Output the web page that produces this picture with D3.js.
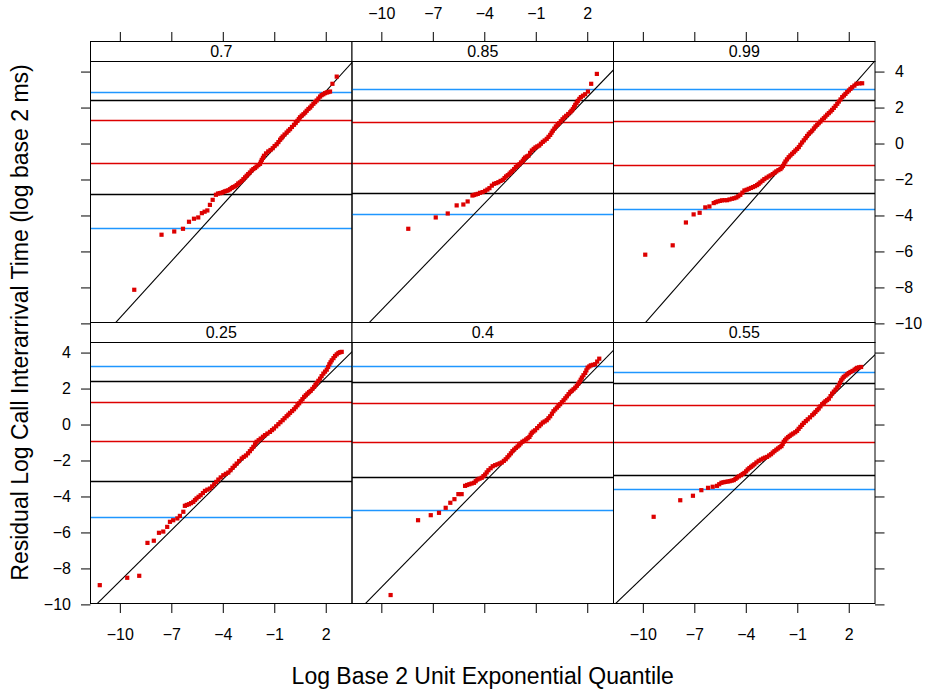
<!DOCTYPE html>
<html>
<head>
<meta charset="utf-8">
<script src="https://cdn.jsdelivr.net/npm/d3@7"></script>
<style>
  body { margin: 0; background: #fff; }
  svg text { font-family: "Liberation Sans", Arial, Helvetica, sans-serif; fill: #000; }
</style>
</head>
<body>
<svg id="chart" width="925" height="691"></svg>
<script>
// panels in lattice order: bottom row first, then top row
const panelLabels = ['0.25', '0.4', '0.55', '0.7', '0.85', '0.99'];

const xTicks = [-10, -7, -4, -1, 2];
const yTicks = [4, 2, 0, -2, -4, -6, -8, -10];

// horizontal reference lines per panel [upper, lower]
const blackLines = [[2.39, -3.15], [2.31, -2.96], [2.28, -2.82], [2.39, -2.81], [2.39, -2.79], [2.39, -2.79]];
const redLines   = [[1.24, -0.93], [1.18, -1.02], [1.07, -0.98], [1.26, -1.09], [1.17, -1.11], [1.21, -1.22]];
const blueLines  = [[3.20, -5.17], [3.20, -4.80], [2.91, -3.63], [2.85, -4.74], [3.02, -3.94], [2.98, -3.68]];

// fitted line per panel
const lineIntercept = [0.72, 0.69, 0.65, 0.80, 0.61, 0.76];
const lineSlope     = [0.943, 0.974, 0.915, 1.05, 0.987, 1.088];

// quantile points [exponential quantile, residual]
const pts025 = [[-11.17,-8.93],[-9.57,-8.52],[-8.87,-8.41],[-8.39,-6.58],[-8.02,-6.46],[-7.72,-6.02],[-7.47,-5.95],[-7.24,-5.69],[-7.08,-5.41],[-6.89,-5.32],[-6.65,-5.22],[-6.50,-5.08],[-6.30,-4.85],[-6.21,-4.52],[-5.97,-4.43],[-5.72,-4.30],[-5.53,-4.11],[-5.29,-3.93],[-5.04,-3.69],[-4.75,-3.56],[-4.50,-3.32],[-4.26,-3.06],[-3.97,-2.82],[-3.68,-2.67],[-3.43,-2.41],[-3.19,-2.17],[-2.90,-1.89],[-2.65,-1.72],[-2.42,-1.48],[-2.22,-1.24],[-2.03,-0.96],[-1.79,-0.78],[-1.54,-0.59],[-1.25,-0.41],[-1.02,-0.22],[-0.76,0.02],[-0.51,0.24],[-0.28,0.46],[-0.08,0.65],[0.15,0.85],[0.35,1.07],[0.54,1.29],[0.74,1.54],[0.93,1.72],[1.12,1.87],[1.32,2.09],[1.47,2.31],[1.67,2.55],[1.86,2.83],[2.06,3.05],[2.21,3.35],[2.35,3.57],[2.54,3.81],[2.74,3.98],[2.93,4.04]];
const band025 = [[-6.10,-4.47],[-5.85,-4.37],[-5.62,-4.20],[-5.41,-4.02],[-5.16,-3.81],[-4.90,-3.62],[-4.62,-3.44],[-4.38,-3.19],[-4.12,-2.94],[-3.82,-2.74],[-3.55,-2.54],[-3.31,-2.29],[-3.05,-2.03],[-2.78,-1.80],[-2.53,-1.60],[-2.32,-1.36],[-2.12,-1.10],[-1.91,-0.87],[-1.66,-0.68],[-1.40,-0.50],[-1.13,-0.31],[-0.89,-0.10],[-0.64,0.13],[-0.40,0.35],[-0.18,0.55],[0.04,0.75],[0.25,0.96],[0.45,1.18],[0.64,1.41],[0.84,1.63],[1.03,1.80],[1.22,1.98],[1.40,2.20],[1.57,2.43],[1.76,2.69],[1.96,2.94],[2.14,3.20],[2.28,3.46],[2.45,3.69],[2.64,3.90],[2.84,4.02]];
const pts04 = [[-9.46,-9.48],[-7.86,-5.32],[-7.12,-5.04],[-6.64,-4.91],[-6.25,-4.63],[-5.98,-4.35],[-5.74,-4.15],[-5.51,-3.87],[-5.32,-3.87],[-5.12,-3.41],[-4.87,-3.32],[-4.60,-3.24],[-4.40,-3.06],[-4.15,-2.96],[-3.95,-2.78],[-3.76,-2.54],[-3.51,-2.32],[-3.23,-2.21],[-2.98,-2.11],[-2.75,-1.93],[-2.55,-1.71],[-2.36,-1.48],[-2.16,-1.30],[-1.97,-1.15],[-1.78,-0.96],[-1.56,-0.83],[-1.37,-0.69],[-1.23,-0.46],[-1.04,-0.32],[-0.80,-0.09],[-0.59,0.11],[-0.36,0.24],[-0.16,0.46],[0.03,0.74],[0.23,0.94],[0.42,1.13],[0.62,1.35],[0.81,1.57],[1.01,1.81],[1.20,1.96],[1.39,2.15],[1.55,2.37],[1.69,2.61],[1.88,2.87],[2.02,3.16],[2.21,3.29],[2.46,3.35],[2.70,3.66]];
const band04 = [[-5.00,-3.36],[-4.74,-3.28],[-4.50,-3.15],[-4.28,-3.01],[-4.05,-2.87],[-3.86,-2.66],[-3.63,-2.43],[-3.37,-2.26],[-3.10,-2.16],[-2.86,-2.02],[-2.65,-1.82],[-2.45,-1.60],[-2.26,-1.39],[-2.06,-1.22],[-1.88,-1.05],[-1.67,-0.90],[-1.47,-0.76],[-1.30,-0.57],[-1.14,-0.39],[-0.92,-0.20],[-0.70,0.01],[-0.48,0.17],[-0.26,0.35],[-0.06,0.60],[0.13,0.84],[0.32,1.03],[0.52,1.24],[0.72,1.46],[0.91,1.69],[1.10,1.88],[1.30,2.05],[1.47,2.26],[1.62,2.49],[1.78,2.74],[1.95,3.01],[2.12,3.23],[2.33,3.32],[2.58,3.50]];
const pts055 = [[-9.37,-5.13],[-7.82,-4.21],[-7.08,-3.96],[-6.59,-3.65],[-6.20,-3.52],[-5.93,-3.46],[-5.68,-3.41],[-5.42,-3.24],[-5.19,-3.19],[-4.94,-3.15],[-4.70,-3.09],[-4.51,-2.95],[-4.28,-2.82],[-4.08,-2.69],[-3.89,-2.50],[-3.69,-2.35],[-3.50,-2.21],[-3.25,-2.02],[-2.99,-1.89],[-2.76,-1.80],[-2.53,-1.65],[-2.33,-1.48],[-2.12,-1.33],[-1.92,-1.20],[-1.79,-0.96],[-1.63,-0.78],[-1.44,-0.63],[-1.24,-0.50],[-1.01,-0.35],[-0.82,-0.13],[-0.62,0.09],[-0.39,0.29],[-0.13,0.52],[0.06,0.70],[0.25,0.89],[0.45,1.13],[0.64,1.29],[0.84,1.44],[1.03,1.72],[1.23,1.94],[1.42,2.18],[1.56,2.46],[1.71,2.65],[1.91,2.79],[2.10,2.92],[2.34,3.05],[2.49,3.15],[2.72,3.20]];
const band055 = [[-5.55,-3.32],[-5.30,-3.21],[-5.06,-3.17],[-4.82,-3.12],[-4.60,-3.02],[-4.40,-2.88],[-4.18,-2.75],[-3.98,-2.60],[-3.79,-2.42],[-3.60,-2.28],[-3.38,-2.11],[-3.12,-1.95],[-2.88,-1.84],[-2.64,-1.72],[-2.43,-1.56],[-2.22,-1.40],[-2.02,-1.26],[-1.85,-1.08],[-1.71,-0.87],[-1.53,-0.70],[-1.34,-0.56],[-1.12,-0.43],[-0.92,-0.24],[-0.72,-0.02],[-0.50,0.19],[-0.26,0.40],[-0.03,0.61],[0.16,0.80],[0.35,1.01],[0.55,1.21],[0.74,1.36],[0.94,1.58],[1.13,1.83],[1.33,2.06],[1.49,2.32],[1.64,2.56],[1.81,2.72],[2.00,2.86],[2.22,2.98],[2.42,3.10],[2.60,3.18]];
const pts07 = [[-9.16,-8.13],[-7.57,-5.07],[-6.83,-4.89],[-6.32,-4.74],[-5.97,-4.35],[-5.68,-4.18],[-5.43,-4.11],[-5.22,-3.87],[-5.06,-3.79],[-4.90,-3.72],[-4.75,-3.41],[-4.59,-3.13],[-4.40,-2.85],[-4.17,-2.76],[-3.97,-2.70],[-3.78,-2.63],[-3.58,-2.54],[-3.39,-2.42],[-3.19,-2.31],[-3.00,-2.16],[-2.80,-1.98],[-2.61,-1.79],[-2.42,-1.61],[-2.22,-1.42],[-2.03,-1.28],[-1.83,-1.13],[-1.73,-0.91],[-1.60,-0.68],[-1.35,-0.44],[-1.09,-0.26],[-0.86,-0.04],[-0.66,0.21],[-0.51,0.39],[-0.28,0.61],[-0.08,0.80],[0.15,1.04],[0.35,1.26],[0.50,1.46],[0.70,1.63],[0.89,1.82],[1.09,2.00],[1.28,2.21],[1.47,2.39],[1.67,2.61],[1.86,2.74],[2.06,2.84],[2.25,2.89],[2.39,3.32],[2.64,3.72]];
const band07 = [[-4.28,-2.78],[-4.07,-2.74],[-3.88,-2.66],[-3.68,-2.60],[-3.48,-2.47],[-3.29,-2.38],[-3.10,-2.22],[-2.90,-2.08],[-2.70,-1.88],[-2.52,-1.70],[-2.32,-1.50],[-2.12,-1.36],[-1.93,-1.20],[-1.78,-1.02],[-1.66,-0.80],[-1.48,-0.55],[-1.22,-0.36],[-0.98,-0.14],[-0.76,0.08],[-0.58,0.30],[-0.40,0.50],[-0.18,0.71],[0.03,0.92],[0.25,1.14],[0.43,1.36],[0.60,1.55],[0.80,1.72],[0.99,1.92],[1.18,2.10],[1.38,2.30],[1.57,2.50],[1.76,2.69],[1.96,2.80],[2.15,2.86]];
const pts085 = [[-8.43,-4.74],[-6.83,-4.11],[-6.13,-3.89],[-5.61,-3.44],[-5.22,-3.39],[-4.97,-3.22],[-4.69,-2.89],[-4.50,-2.83],[-4.25,-2.74],[-3.95,-2.63],[-3.70,-2.48],[-3.43,-2.24],[-3.18,-2.15],[-2.92,-2.02],[-2.73,-1.83],[-2.53,-1.68],[-2.36,-1.52],[-2.16,-1.31],[-1.95,-1.15],[-1.76,-0.96],[-1.62,-0.78],[-1.43,-0.68],[-1.23,-0.39],[-1.02,-0.22],[-0.80,-0.11],[-0.59,0.09],[-0.36,0.26],[-0.16,0.48],[-0.01,0.71],[0.17,0.95],[0.36,1.13],[0.56,1.35],[0.77,1.54],[1.01,1.74],[1.16,1.91],[1.30,2.15],[1.45,2.37],[1.63,2.58],[1.88,2.74],[2.04,2.89],[2.23,3.32],[2.56,3.87]];
const band085 = [[-4.60,-2.86],[-4.38,-2.80],[-4.10,-2.70],[-3.82,-2.56],[-3.56,-2.34],[-3.30,-2.20],[-3.05,-2.08],[-2.82,-1.92],[-2.63,-1.76],[-2.45,-1.60],[-2.26,-1.42],[-2.06,-1.23],[-1.86,-1.05],[-1.69,-0.86],[-1.52,-0.72],[-1.33,-0.52],[-1.12,-0.30],[-0.91,-0.16],[-0.70,-0.01],[-0.48,0.17],[-0.26,0.37],[-0.08,0.60],[0.08,0.83],[0.27,1.04],[0.46,1.24],[0.66,1.45],[0.89,1.64],[1.08,1.82],[1.23,2.03],[1.38,2.26],[1.54,2.48],[1.75,2.66]];
const pts099 = [[-9.86,-6.18],[-8.26,-5.66],[-7.49,-4.39],[-7.04,-3.94],[-6.69,-3.85],[-6.36,-3.55],[-6.12,-3.50],[-5.87,-3.31],[-5.64,-3.22],[-5.39,-3.16],[-5.09,-3.15],[-4.80,-3.07],[-4.55,-3.00],[-4.32,-2.85],[-4.08,-2.61],[-3.83,-2.52],[-3.58,-2.42],[-3.34,-2.31],[-3.15,-2.16],[-2.92,-1.98],[-2.66,-1.83],[-2.43,-1.70],[-2.22,-1.55],[-1.98,-1.42],[-1.83,-1.24],[-1.69,-1.00],[-1.50,-0.76],[-1.30,-0.57],[-1.11,-0.39],[-0.91,-0.20],[-0.72,0.06],[-0.52,0.30],[-0.33,0.54],[-0.13,0.72],[0.06,0.95],[0.25,1.13],[0.45,1.32],[0.64,1.50],[0.84,1.69],[1.03,1.87],[1.23,2.09],[1.42,2.33],[1.62,2.58],[1.81,2.76],[2.01,2.95],[2.20,3.13],[2.45,3.32],[2.78,3.35]];
const band099 = [[-5.75,-3.26],[-5.51,-3.19],[-5.24,-3.15],[-4.95,-3.11],[-4.67,-3.04],[-4.44,-2.93],[-4.20,-2.73],[-3.95,-2.57],[-3.70,-2.47],[-3.46,-2.37],[-3.25,-2.24],[-3.03,-2.07],[-2.79,-1.90],[-2.55,-1.77],[-2.32,-1.62],[-2.10,-1.48],[-1.90,-1.33],[-1.76,-1.12],[-1.60,-0.88],[-1.40,-0.66],[-1.20,-0.48],[-1.01,-0.30],[-0.82,-0.07],[-0.62,0.18],[-0.43,0.42],[-0.23,0.63],[-0.03,0.84],[0.16,1.04],[0.35,1.22],[0.55,1.41],[0.74,1.60],[0.94,1.78],[1.13,1.98],[1.33,2.21],[1.52,2.45],[1.72,2.67],[1.91,2.86],[2.10,3.04],[2.33,3.22],[2.62,3.34]];

const panelPoints = [
  pts025.concat(band025), pts04.concat(band04), pts055.concat(band055),
  pts07.concat(band07), pts085.concat(band085), pts099.concat(band099)
];

const svg = d3.select('#chart');
const W = 261.5, H = 261, stripH = 20;
const left0 = 90.5, top0 = 41.5;
const tickLen = 9.5;

const x = d3.scaleLinear().domain([-11.71, 3.53]).range([0, W]);
const y = d3.scaleLinear().domain([-9.95, 4.56]).range([H, 0]);

const blue = '#1f96ff', red = '#dd0000';

function styleAxis(g) {
  g.select('.domain').remove();
  g.selectAll('.tick line').attr('stroke', '#000');
  g.selectAll('.tick text').attr('font-size', 16).attr('fill', '#000')
    .attr('font-family', '"Liberation Sans", Arial, sans-serif');
}

panelLabels.forEach((label, i) => {
  const col = i % 3;
  const row = 1 - Math.floor(i / 3); // 0 = top row
  const px = left0 + col * W;
  const stripTop = top0 + row * (stripH + H);
  const py = stripTop + stripH;

  svg.append('clipPath').attr('id', `clip${i}`)
    .append('rect').attr('width', W).attr('height', H);

  const g = svg.append('g').attr('transform', `translate(${px},${py})`);
  const plot = g.append('g').attr('clip-path', `url(#clip${i})`);

  const hlines = [
    ...blueLines[i].map(v => ({ v, c: blue })),
    ...redLines[i].map(v => ({ v, c: red })),
    ...blackLines[i].map(v => ({ v, c: '#000' }))
  ];
  plot.selectAll('line.h')
    .data(hlines)
    .join('line')
    .attr('class', 'h')
    .attr('x1', 0).attr('x2', W)
    .attr('y1', d => Math.round(y(d.v))).attr('y2', d => Math.round(y(d.v)))
    .attr('stroke', d => d.c)
    .attr('stroke-width', 1.5);

  const x0 = -13, x1 = 5;
  plot.append('line')
    .attr('x1', x(x0)).attr('y1', y(lineIntercept[i] + lineSlope[i] * x0))
    .attr('x2', x(x1)).attr('y2', y(lineIntercept[i] + lineSlope[i] * x1))
    .attr('stroke', '#000').attr('stroke-width', 1.1);

  const s = 4.2;
  plot.selectAll('rect.pt')
    .data(panelPoints[i])
    .join('rect')
    .attr('class', 'pt')
    .attr('x', d => x(d[0]) - s / 2)
    .attr('y', d => y(d[1]) - s / 2)
    .attr('width', s).attr('height', s)
    .attr('fill', red);

  // panel border
  g.append('rect').attr('width', W).attr('height', H)
    .attr('fill', 'none').attr('stroke', '#000').attr('stroke-width', 1);

  // strip
  const strip = svg.append('g').attr('transform', `translate(${px},${stripTop})`);
  strip.append('rect').attr('width', W).attr('height', stripH)
    .attr('fill', '#fff').attr('stroke', '#000').attr('stroke-width', 1);
  strip.append('text')
    .attr('x', W / 2).attr('y', 15.8)
    .attr('text-anchor', 'middle').attr('font-size', 16)
    .text(label);

  // y axes
  if (col === 0) {
    g.append('g')
      .call(d3.axisLeft(y).tickValues(yTicks).tickSize(tickLen).tickPadding(10)
        .tickFormat(row === 1 ? d3.format('') : () => ''))
      .call(styleAxis);
  }
  if (col === 2) {
    g.append('g').attr('transform', `translate(${W},0)`)
      .call(d3.axisRight(y).tickValues(yTicks).tickSize(tickLen).tickPadding(10.5)
        .tickFormat(row === 0 ? d3.format('') : () => ''))
      .call(styleAxis);
  }
  // x axes
  if (row === 1) {
    g.append('g').attr('transform', `translate(0,${H})`)
      .call(d3.axisBottom(x).tickValues(xTicks).tickSize(tickLen).tickPadding(16)
        .tickFormat(col !== 1 ? d3.format('') : () => ''))
      .call(styleAxis);
  } else {
    svg.append('g').attr('transform', `translate(${px},${stripTop})`)
      .call(d3.axisTop(x).tickValues(xTicks).tickSize(tickLen).tickPadding(13.5)
        .tickFormat(col === 1 ? d3.format('') : () => ''))
      .call(styleAxis);
  }
});

svg.append('text')
  .attr('x', left0 + 1.5 * W).attr('y', 684)
  .attr('text-anchor', 'middle').attr('font-size', 23)
  .text('Log Base 2 Unit Exponential Quantile');

svg.append('text')
  .attr('transform', `translate(28,${top0 + stripH + H})rotate(-90)`)
  .attr('text-anchor', 'middle').attr('font-size', 23)
  .text('Residual Log Call Interarrival Time (log base 2 ms)');
</script>
</body>
</html>
